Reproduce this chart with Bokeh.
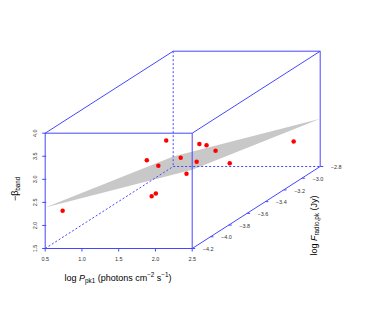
import numpy as np
from bokeh.plotting import figure
from bokeh.models import Range1d
from bokeh.embed import file_html
from bokeh.resources import INLINE
from bokeh.core.properties import value

# ---- data ----
log_ppk1 = [0.65, 1.36, 1.45, 1.43, 1.56, 1.60, 1.57, 1.90, 1.69, 1.64, 1.65, 1.86, 2.14, 2.40]
log_fradio = [-4.13, -3.78, -3.64, -3.71, -3.57, -3.92, -3.85, -3.78, -3.50, -3.43, -3.36, -3.43, -3.50, -3.01]
neg_beta_band = [2.23, 2.88, 3.13, 2.67, 2.67, 2.28, 2.25, 2.59, 2.49, 2.79, 2.67, 2.64, 2.46, 2.31]

x_ticks = [0.5, 1.0, 1.5, 2.0, 2.5]
y_ticks = [-4.2, -4.0, -3.8, -3.6, -3.4, -3.2, -3.0, -2.8]
z_ticks = [1.5, 2.0, 2.5, 3.0, 3.5, 4.0]
x_tick_labels = ["0.5", "1.0", "1.5", "2.0", "2.5"]
y_tick_labels = ["\u22124.2", "\u22124.0", "\u22123.8", "\u22123.6", "\u22123.4", "\u22123.2", "\u22123.0", "\u22122.8"]
z_tick_labels = ["1.5", "2.0", "2.5", "3.0", "3.5", "4.0"]
x_lim = (0.5, 2.5)
y_lim = (-4.2, -2.8)
z_lim = (1.5, 4.0)
plane_coef = (0.169, 0.4085, -0.48)  # intercept, x slope, y slope

# ---- projection geometry ----
SX = 73.5    # px per x unit
SZ = 46.12   # px per z unit
DEPTH_PX = (128.0, -82.0)  # screen shift of the back face
DX = DEPTH_PX[0] / SX
DZ = -DEPTH_PX[1] / SZ
W, H = 358, 295
ORG = 0.0
x0 = 0.5 - (44.7 - ORG) / SX
zt = 1.5 + (248 - ORG) / SZ


def proj(x, y, z):
    x = np.asarray(x, float); y = np.asarray(y, float); z = np.asarray(z, float)
    t = (y - y_lim[0]) / (y_lim[1] - y_lim[0])
    return x + t * DX, z + t * DZ


def px(dx):
    return dx / SX


def pz(dy):
    return dy / SZ


p = figure(width=W, height=H, output_backend="svg", toolbar_location=None,
           x_range=Range1d(x0, x0 + W / SX), y_range=Range1d(zt - H / SZ, zt),
           x_axis_location=None, y_axis_location=None, min_border=0)
p.outline_line_color = None
p.xgrid.visible = False
p.ygrid.visible = False
p.background_fill_color = "white"

BLUE = "#4646ff"
FONT = value("Liberation Sans")

# regression plane
cx = [x_lim[0], x_lim[1], x_lim[1], x_lim[0]]
cy = [y_lim[0], y_lim[0], y_lim[1], y_lim[1]]
cz = [plane_coef[0] + plane_coef[1] * a + plane_coef[2] * b for a, b in zip(cx, cy)]
u, v = proj(cx, cy, cz)
p.patch(list(u), list(v), fill_color="#c8c8c8", line_color=None)

# box
xl, xh = x_lim; yl, yh = y_lim; zl, zh = z_lim
solid = [((xl, yl, zl), (xh, yl, zl)), ((xh, yl, zl), (xh, yl, zh)), ((xh, yl, zh), (xl, yl, zh)),
         ((xl, yl, zh), (xl, yl, zl)), ((xl, yl, zh), (xl, yh, zh)), ((xl, yh, zh), (xh, yh, zh)),
         ((xh, yh, zh), (xh, yh, zl)), ((xh, yl, zh), (xh, yh, zh)), ((xh, yl, zl), (xh, yh, zl))]
dashed = [((xl, yh, zh), (xl, yh, zl)), ((xl, yh, zl), (xh, yh, zl)), ((xl, yl, zl), (xl, yh, zl))]


def segs(lst):
    a = np.array([s[0] for s in lst]); b = np.array([s[1] for s in lst])
    ua, va = proj(a[:, 0], a[:, 1], a[:, 2]); ub, vb = proj(b[:, 0], b[:, 1], b[:, 2])
    return ua, va, ub, vb


ua, va, ub, vb = segs(solid)
p.segment(ua, va, ub, vb, line_color=BLUE, line_width=1)
ua, va, ub, vb = segs(dashed)
p.segment(ua, va, ub, vb, line_color=BLUE, line_width=1, line_dash="2 2")

# x ticks (front bottom edge)
tu, tv = proj(x_ticks, [yl] * len(x_ticks), [zl] * len(x_ticks))
p.segment(tu, tv, tu, tv - pz(3), line_color=BLUE)
p.text(tu, tv - pz(10.5), text=x_tick_labels, text_font=FONT, text_font_size=value("5.5px"),
       text_align="center", text_baseline="middle", text_color="#333333")

# z ticks (front left edge)
tu, tv = proj([xl] * len(z_ticks), [yl] * len(z_ticks), z_ticks)
p.segment(tu - px(3), tv, tu + px(1), tv, line_color=BLUE)
p.text(tu - px(10.4), tv, text=z_tick_labels, text_font=FONT, text_font_size=value("5.5px"),
       text_align="center", text_baseline="middle", angle=np.pi / 2, text_color="#333333")

# y ticks (depth axis along bottom right)
tu, tv = proj([xh] * len(y_ticks), y_ticks, [zl] * len(y_ticks))
p.segment(tu, tv, tu + px(3), tv, line_color=BLUE)
p.text(tu + px(10.5), tv - pz(0.7), text=y_tick_labels, text_font=FONT, text_font_size=value("5.5px"),
       text_align="left", text_baseline="middle", text_color="#333333")

# points
pu, pv = proj(log_ppk1, log_fradio, neg_beta_band)
p.scatter(pu, pv, size=4.5, fill_color="red", line_color=None)


# ---- axis titles composed of runs ----
def to_data(xp, yp):
    return x0 + (xp - ORG) / SX, zt - (yp - ORG) / SZ


MAIN = 9.0
SUB = 6.3
W_ = {"log": 1.334, " ": 0.278, "P": 0.667, "pk1": 1.612, "(photons": 3.891, "cm": 1.333, "\u22122": 1.14,
      "s": 0.5, "\u22121": 1.14, ")": 0.333, "F": 0.611, "radio,pk": 3.557, "(Jy)": 1.666,
      "\u2212\u03b2": 1.15, "band": 2.224}


def runs_h(x_start, base_y, runs):
    x = x_start
    for txt, size, dy, italic in runs:
        if txt.strip():
            dxp, dyp = to_data(x, base_y + dy)
            p.text([dxp], [dyp], text=[txt], text_font=FONT, text_font_size=value(f"{size}px"),
                   text_align="left", text_baseline="alphabetic", text_color="black",
                   text_font_style="italic" if italic else "normal")
        x += W_[txt] * size


def runs_v(base_x, y_start, runs):
    y = y_start
    for txt, size, dx, italic in runs:
        if txt.strip():
            dxp, dyp = to_data(base_x + dx, y)
            p.text([dxp], [dyp], text=[txt], text_font=FONT, text_font_size=value(f"{size}px"),
                   text_align="left", text_baseline="alphabetic", angle=np.pi / 2, text_color="black",
                   text_font_style="italic" if italic else "normal")
        y -= W_[txt] * size


runs_h(64.0, 277.0, [("log", MAIN, 0, False), (" ", MAIN, 0, False), ("P", MAIN, 0, True),
                     ("pk1", SUB, 2.5, False), (" ", MAIN, 0, False), ("(photons", MAIN, 0, False),
                     (" ", MAIN, 0, False), ("cm", MAIN, 0, False), ("\u22122", SUB, -3.5, False),
                     (" ", MAIN, 0, False), ("s", MAIN, 0, False), ("\u22121", SUB, -3.5, False),
                     (")", MAIN, 0, False)])

runs_v(14.0, 200.5, [("\u2212\u03b2", MAIN, 0, False), ("band", SUB, 2.5, False)])

runs_v(313.0, 255.0, [("log", MAIN, 0, False), (" ", MAIN, 0, False), ("F", MAIN, 0, True),
                      ("radio,pk", SUB, 2.5, False), (" ", MAIN, 0, False), ("(Jy)", MAIN, 0, False)])

open("out.html", "w").write(file_html(p, INLINE))
